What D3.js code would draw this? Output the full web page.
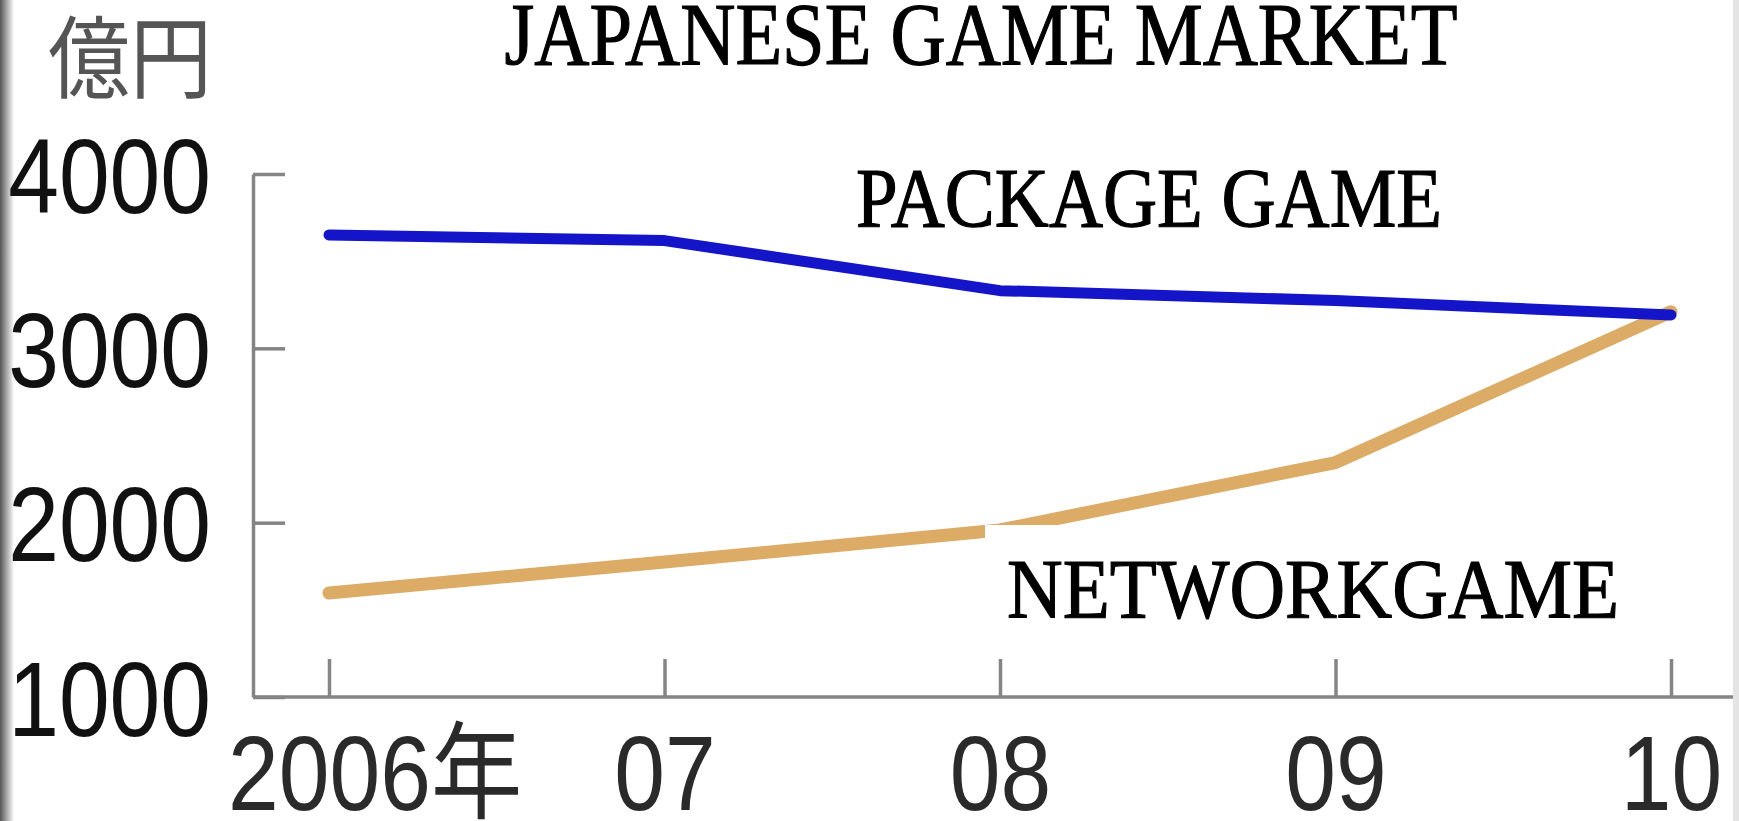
<!DOCTYPE html>
<html>
<head>
<meta charset="utf-8">
<script src="https://cdn.jsdelivr.net/npm/d3@7"></script>
<style>
  body { margin: 0; background: #fff; }
  svg { display: block; }
</style>
</head>
<body>
<div id="chart"></div>
<script>
// data (億円)
const years = [2006, 2007, 2008, 2009, 2010];
const yearLabels = ["2006年", "07", "08", "09", "10"];
const packageGame = [3650, 3618, 3331, 3274, 3191];
const networkGame = [1597, 1774, 1958, 2345, 3210];
const yTicks = [1000, 2000, 3000, 4000];

const width = 1739, height = 821;
const axisX = 253, axisY = 697;

const svg = d3.select("#chart").append("svg")
    .attr("width", width)
    .attr("height", height);

// scanned-page edge shading
const grad = svg.append("defs").append("linearGradient")
    .attr("id", "edge").attr("x1", 0).attr("x2", 1);
grad.append("stop").attr("offset", 0).attr("stop-color", "#555");
grad.append("stop").attr("offset", 0.5).attr("stop-color", "#aaa");
grad.append("stop").attr("offset", 1).attr("stop-color", "#fff");
svg.append("rect").attr("x", 0).attr("y", 0).attr("width", 14).attr("height", height)
    .attr("fill", "url(#edge)");
svg.append("rect").attr("x", 1733).attr("y", 0).attr("width", 6).attr("height", height)
    .attr("fill", "#e4e4e4");

const x = d3.scaleLinear().domain([2006, 2010]).range([329, 1671]);
const y = d3.scaleLinear().domain([1000, 4000]).range([axisY, 174]);

const labelFont = "'Liberation Sans', Arial, 'Noto Sans CJK JP', sans-serif";

// y axis
const yAxis = svg.append("g")
    .attr("transform", `translate(${axisX},0)`)
    .call(d3.axisLeft(y).tickValues(yTicks).tickFormat(d3.format("d"))
        .tickSize(-32).tickSizeOuter(0).tickPadding(42));
yAxis.select(".domain").attr("stroke", "#858585").attr("stroke-width", 3.5);
yAxis.selectAll(".tick line").attr("stroke", "#858585").attr("stroke-width", 3.5);
yAxis.selectAll(".tick text")
    .attr("font-family", labelFont)
    .attr("font-size", 106)
    .attr("fill", "#111")
    .attr("dy", "0.36em");

// x axis
const xAxis = svg.append("g")
    .attr("transform", `translate(0,${axisY})`)
    .call(d3.axisBottom(x).tickValues(years).tickSize(-38).tickSizeOuter(0)
        .tickFormat((d, i) => yearLabels[i]));
xAxis.select(".domain").remove();
xAxis.append("line")
    .attr("x1", axisX).attr("x2", 1733).attr("y1", 0).attr("y2", 0)
    .attr("stroke", "#858585").attr("stroke-width", 3.5);
xAxis.selectAll(".tick line").attr("stroke", "#858585").attr("stroke-width", 3.5);
xAxis.selectAll(".tick text")
    .attr("font-family", labelFont)
    .attr("font-size", 106)
    .attr("fill", "#2a2a2a")
    .attr("y", 113)
    .attr("dy", null);

// condense the sans labels like the original print
svg.selectAll(".tick text").each(function () {
    const len = this.getComputedTextLength();
    d3.select(this).attr("textLength", len * 0.86).attr("lengthAdjust", "spacingAndGlyphs");
});
// keep the digits of "2006年" centred on the tick
xAxis.selectAll(".tick text").filter((d, i) => i === 0).each(function () {
    const full = this.getComputedTextLength();
    const digits = this.getSubStringLength(0, 4);
    d3.select(this).attr("x", (full - digits) / 2);
});

// unit label
svg.append("text")
    .attr("x", 212).attr("y", 52)
    .attr("text-anchor", "end")
    .attr("dominant-baseline", "central")
    .attr("font-family", "'Noto Sans CJK JP', sans-serif")
    .attr("font-size", 90)
    .attr("textLength", 164)
    .attr("lengthAdjust", "spacingAndGlyphs")
    .attr("fill", "#555")
    .text("億円");

// lines
const line = d3.line()
    .x((d, i) => x(years[i]))
    .y(d => y(d));

svg.append("path")
    .datum(networkGame)
    .attr("d", line)
    .attr("fill", "none")
    .attr("stroke", "#dcab66")
    .attr("stroke-width", 13)
    .attr("stroke-linecap", "round")
    .attr("stroke-linejoin", "round");

svg.append("path")
    .datum(packageGame)
    .attr("d", line)
    .attr("fill", "none")
    .attr("stroke", "#1414c8")
    .attr("stroke-width", 11)
    .attr("stroke-linecap", "round")
    .attr("stroke-linejoin", "round");

// titles
const serif = "'Liberation Serif', 'Times New Roman', serif";

function serifLabel(txt, xPos, yPos, size, len, anchor) {
    return svg.append("text")
        .attr("x", xPos).attr("y", yPos)
        .attr("text-anchor", anchor)
        .attr("font-family", serif)
        .attr("font-size", size)
        .attr("textLength", len)
        .attr("lengthAdjust", "spacingAndGlyphs")
        .attr("fill", "#000")
        .attr("stroke", "#000")
        .attr("stroke-width", 1.2)
        .text(txt);
}

serifLabel("JAPANESE GAME MARKET", 981, 64, 88, 953, "middle");
serifLabel("PACKAGE GAME", 856, 227, 84, 586, "start");

// white patch behind the network label
svg.append("rect")
    .attr("x", 985).attr("y", 525)
    .attr("width", 1733 - 985).attr("height", 130)
    .attr("fill", "#fff");

serifLabel("NETWORKGAME", 1007, 618, 84, 612, "start");
</script>
</body>
</html>
